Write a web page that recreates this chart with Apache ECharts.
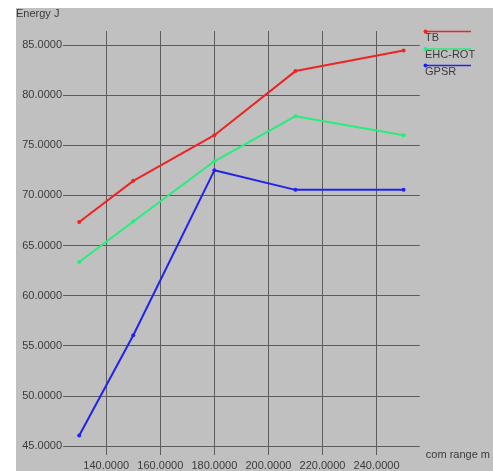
<!DOCTYPE html>
<html>
<head>
<meta charset="utf-8">
<script src="https://cdn.jsdelivr.net/npm/echarts@6/dist/echarts.min.js"></script>
<style>
  html, body { margin: 0; padding: 0; background: #ffffff; }
  #chart { width: 493px; height: 471px; }
</style>
</head>
<body>
<div id="chart"></div>
<script>
// Communication range (m) on x, energy (J) on y
var ranges = [130, 150, 180, 210, 250];
var seriesNames = ['TB', 'EHC-ROT', 'GPSR'];
var tbEnergy = [67.35, 71.45, 76.0, 82.4, 84.45];
var ehcRotEnergy = [63.35, 67.4, 73.4, 77.9, 76.0];
var gpsrEnergy = [46.05, 56.05, 72.5, 70.55, 70.55];
var xTicks = [140, 160, 180, 200, 220, 240];
var yTicks = [45, 50, 55, 60, 65, 70, 75, 80, 85];

var colors = ['#ee2424', '#26ee7c', '#2222ee'];
var values = [tbEnergy, ehcRotEnergy, gpsrEnergy];

function pairs(ys) {
  return ranges.map(function (x, i) { return [x, ys[i]]; });
}

var textColor = '#3a3a3a';
var gridColor = '#5c5c5c';
var font = 'Liberation Sans, Arial, sans-serif';

// Legend: a short coloured line with a dot at its left end, name underneath
var legendGraphics = [];
seriesNames.forEach(function (name, i) {
  var y = [31.5, 49, 65.5][i];
  legendGraphics.push({
    type: 'rect', z: 10, silent: true,
    shape: { x: 424, y: y - 0.75, width: 47, height: 1.5 },
    style: { fill: colors[i] }
  });
  legendGraphics.push({
    type: 'circle', z: 11, silent: true,
    shape: { cx: 425.5, cy: y, r: 2 },
    style: { fill: colors[i] }
  });
  legendGraphics.push({
    type: 'text', z: 10, silent: true,
    x: 425, y: y + 0.5,
    style: { text: name, fill: textColor, font: '11px ' + font, textVerticalAlign: 'top' }
  });
});

var chart = echarts.init(document.getElementById('chart'), null, { renderer: 'canvas' });
chart.setOption({
  animation: false,
  backgroundColor: '#ffffff',
  title: {
    text: 'Energy J',
    left: 16, top: 8, padding: 0,
    textStyle: { fontSize: 11, fontWeight: 'normal', color: textColor, fontFamily: font }
  },
  graphic: [{
    type: 'rect', z: -100, silent: true,
    shape: { x: 16, y: 8, width: 477, height: 463 },
    style: { fill: '#c0c0c0' }
  }].concat(legendGraphics),
  grid: { left: 63, right: 69, top: 31, bottom: 16, containLabel: false },
  xAxis: {
    type: 'value',
    min: 124, max: 256,
    name: 'com range m',
    nameLocation: 'end',
    nameGap: 6,
    nameTextStyle: { fontSize: 11, color: textColor, fontFamily: font },
    axisLine: { show: false },
    axisTick: { show: false, customValues: xTicks },
    axisLabel: {
      customValues: xTicks,
      margin: 5,
      fontSize: 11, color: textColor, fontFamily: font,
      formatter: function (v) { return v.toFixed(4); }
    },
    splitLine: { show: true, lineStyle: { color: gridColor, width: 1 } }
  },
  yAxis: {
    type: 'value',
    min: 44.1, max: 86.4,
    axisLine: { show: false },
    axisTick: { show: false, customValues: yTicks },
    axisLabel: {
      customValues: yTicks,
      margin: 1,
      fontSize: 11, color: textColor, fontFamily: font,
      formatter: function (v) { return v.toFixed(4); }
    },
    splitLine: { show: true, lineStyle: { color: gridColor, width: 1 } }
  },
  series: seriesNames.map(function (name, i) {
    return {
      name: name,
      type: 'line',
      data: pairs(values[i]),
      symbol: 'circle',
      symbolSize: 4,
      showSymbol: true,
      itemStyle: { color: colors[i] },
      lineStyle: { color: colors[i], width: 2 }
    };
  })
});
</script>
</body>
</html>
